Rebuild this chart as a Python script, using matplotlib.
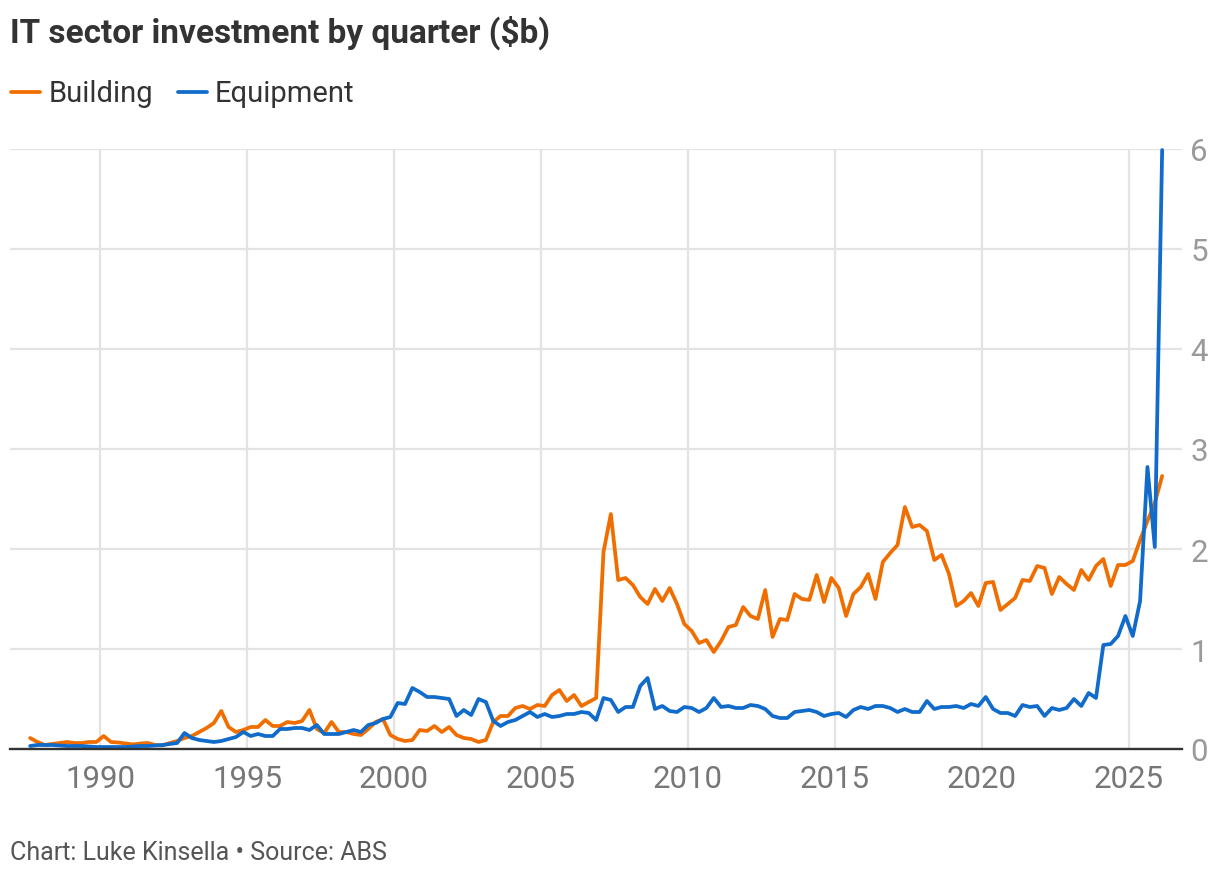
import matplotlib
matplotlib.use("Agg")
import matplotlib.pyplot as plt
from matplotlib.lines import Line2D
import pandas as pd

# ---- data -------------------------------------------------------------
first_quarter = "1987Q3"
building = [
    0.11, 0.07, 0.04, 0.05, 0.06, 0.07, 0.06, 0.06, 0.07, 0.07,
    0.13, 0.07, 0.065, 0.055, 0.045, 0.055, 0.06, 0.04, 0.035, 0.06,
    0.08, 0.11, 0.13, 0.17, 0.21, 0.26, 0.38, 0.22, 0.17, 0.19,
    0.22, 0.22, 0.29, 0.23, 0.23, 0.27, 0.26, 0.28, 0.39, 0.20,
    0.16, 0.27, 0.17, 0.17, 0.15, 0.14, 0.20, 0.27, 0.30, 0.14,
    0.10, 0.08, 0.09, 0.19, 0.18, 0.23, 0.17, 0.22, 0.14, 0.11,
    0.10, 0.07, 0.09, 0.27, 0.33, 0.33, 0.41, 0.43, 0.40, 0.44,
    0.43, 0.54, 0.59, 0.48, 0.54, 0.43, 0.47, 0.51, 1.97, 2.35,
    1.69, 1.71, 1.64, 1.52, 1.45, 1.60, 1.48, 1.61, 1.45, 1.25,
    1.18, 1.06, 1.09, 0.97, 1.08, 1.22, 1.24, 1.42, 1.33, 1.30,
    1.59, 1.12, 1.30, 1.29, 1.55, 1.50, 1.49, 1.74, 1.47, 1.71,
    1.61, 1.33, 1.55, 1.62, 1.75, 1.50, 1.87, 1.96, 2.04, 2.42,
    2.22, 2.24, 2.18, 1.89, 1.94, 1.75, 1.43, 1.48, 1.56, 1.43,
    1.66, 1.67, 1.39, 1.45, 1.51, 1.69, 1.68, 1.83, 1.81, 1.55,
    1.72, 1.65, 1.59, 1.79, 1.69, 1.83, 1.90, 1.63, 1.84, 1.84,
    1.88, 2.09, 2.28, 2.46, 2.73,
]
equipment = [
    0.03, 0.04, 0.04, 0.04, 0.035, 0.03, 0.03, 0.03, 0.025, 0.02,
    0.02, 0.02, 0.02, 0.02, 0.025, 0.03, 0.03, 0.035, 0.04, 0.05,
    0.06, 0.16, 0.11, 0.09, 0.08, 0.07, 0.08, 0.10, 0.12, 0.17,
    0.13, 0.15, 0.13, 0.13, 0.20, 0.20, 0.21, 0.21, 0.19, 0.24,
    0.15, 0.15, 0.15, 0.17, 0.19, 0.17, 0.24, 0.26, 0.30, 0.32,
    0.46, 0.45, 0.61, 0.57, 0.52, 0.52, 0.51, 0.50, 0.33, 0.39,
    0.34, 0.50, 0.47, 0.28, 0.23, 0.27, 0.29, 0.33, 0.37, 0.32,
    0.35, 0.32, 0.33, 0.35, 0.35, 0.37, 0.36, 0.29, 0.51, 0.49,
    0.37, 0.42, 0.42, 0.63, 0.71, 0.40, 0.43, 0.38, 0.37, 0.42,
    0.41, 0.37, 0.41, 0.51, 0.42, 0.43, 0.41, 0.41, 0.44, 0.43,
    0.40, 0.33, 0.31, 0.31, 0.37, 0.38, 0.39, 0.37, 0.33, 0.35,
    0.36, 0.32, 0.39, 0.42, 0.40, 0.43, 0.43, 0.41, 0.37, 0.40,
    0.37, 0.37, 0.48, 0.40, 0.42, 0.42, 0.43, 0.41, 0.45, 0.43,
    0.52, 0.40, 0.36, 0.36, 0.33, 0.44, 0.42, 0.43, 0.33, 0.41,
    0.39, 0.41, 0.50, 0.43, 0.56, 0.51, 1.04, 1.05, 1.13, 1.33,
    1.13, 1.48, 2.82, 2.02, 5.99,
]
series_names = ["Building", "Equipment"]
series_colors = ["#f06e00", "#106bca"]
x_ticks = [1990, 1995, 2000, 2005, 2010, 2015, 2020, 2025]
y_ticks = [0, 1, 2, 3, 4, 5, 6]
title = "IT sector investment by quarter ($b)"
footer = "Chart: Luke Kinsella \u2022 Source: ABS"

# quarter mid-points as decimal years
periods = pd.period_range(first_quarter, periods=len(building), freq="Q")
xs = [p.year + (p.quarter - 1) * 0.25 + 0.125 for p in periods]

# ---- figure -----------------------------------------------------------
W, H = 1220, 878
plt.rcParams["font.family"] = ["Roboto", "DejaVu Sans"]
fig = plt.figure(figsize=(W / 100, H / 100), dpi=100)
fig.patch.set_facecolor("white")

def fx(px):
    return px / W

def fy(py):
    return 1 - py / H

ax = fig.add_axes([fx(10), fy(750), fx(1182) - fx(10), fy(150) - fy(750)])
ax.set_xlim(1986.94, 2026.80)
ax.set_ylim(0, 6)

for vals, col in zip([building, equipment], series_colors):
    ax.plot(xs, vals, color=col, lw=2.7, solid_joinstyle="round",
            solid_capstyle="round", clip_on=False, zorder=3)

ax.set_xticks(x_ticks)
ax.set_yticks(y_ticks)
ax.set_xticklabels([str(v) for v in x_ticks])
ax.set_yticklabels([str(v) for v in y_ticks])
ax.yaxis.tick_right()
ax.tick_params(axis="x", length=0, pad=11, labelsize=22.5, labelcolor="#777777")
ax.tick_params(axis="y", length=0, pad=6, labelsize=22.5, labelcolor="#9a9a9a")
for lbl in ax.get_yticklabels():
    lbl.set_horizontalalignment("left")

ax.grid(True, color="#e3e3e3", lw=1.6, zorder=0)
for s in ["top", "left", "right"]:
    ax.spines[s].set_visible(False)
ax.spines["bottom"].set_color("#333333")
ax.spines["bottom"].set_linewidth(1.7)
ax.spines["bottom"].set_zorder(4)
ax.set_facecolor("white")

# ---- title, legend, footer --------------------------------------------
fig.text(fx(10), fy(43), title, fontsize=24, fontweight="bold",
         color="#333333", va="baseline", ha="left")

legend_items = [(11, 40, 49), (178, 207, 215)]
for (x0, x1, tx), name, col in zip(legend_items, series_names, series_colors):
    fig.add_artist(Line2D([fx(x0), fx(x1)], [fy(93), fy(93)], color=col,
                          lw=2.7, solid_capstyle="round"))
    fig.text(fx(tx), fy(102), name, fontsize=21, color="#333333",
             va="baseline", ha="left")

fig.text(fx(10), fy(860), footer, fontsize=18, color="#555555",
         va="baseline", ha="left")

fig.savefig("out.png", dpi=100, facecolor="white")
